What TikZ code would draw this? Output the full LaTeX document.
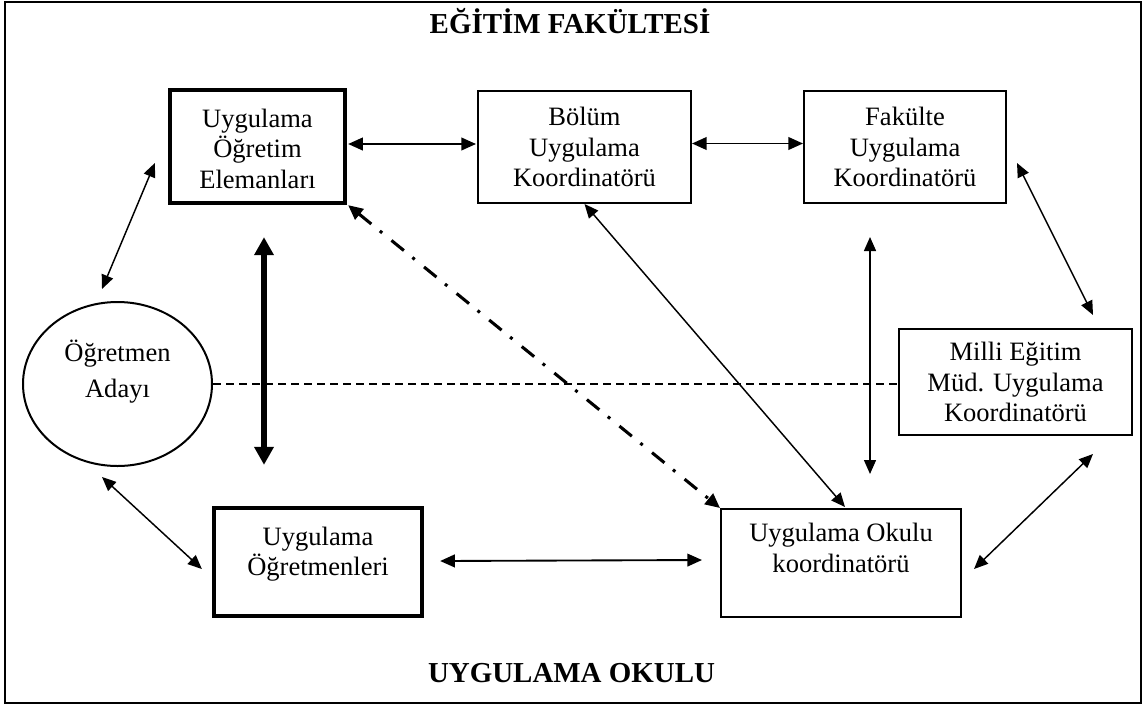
\documentclass[tikz,border=0pt]{standalone}
\usepackage{fontspec}
\setmainfont{Liberation Serif}
\usetikzlibrary{arrows.meta,calc,shapes.geometric}
\begin{document}
\begin{tikzpicture}[x=0.75pt,y=-0.75pt,
  every node/.style={font=\fontsize{19.9pt}{22.9pt}\selectfont, align=center, inner sep=0pt},
  box/.style={draw, line width=1.5pt, rectangle},
  thickbox/.style={draw, line width=3.2pt, rectangle},
  heading/.style={font=\fontsize{21.7pt}{25pt}\selectfont\bfseries, anchor=base},
  arr/.style={line width=1.1pt, {Triangle[length=10.5pt,width=9pt]}-{Triangle[length=10.5pt,width=9pt]}},
  arrmid/.style={line width=1.4pt, {Triangle[length=11pt,width=9.5pt]}-{Triangle[length=11pt,width=9.5pt]}},
  arrthick/.style={line width=4pt, {Triangle[length=13.5pt,width=14pt]}-{Triangle[length=13.5pt,width=14pt]}},
  dashdotline/.style={line width=2.3pt, dash pattern=on 12pt off 8.25pt on 2.25pt off 9pt,
     {Triangle[length=11pt,width=10pt]}-{Triangle[length=11pt,width=10pt]}},
  dashline/.style={line width=1pt, dash pattern=on 6pt off 3.75pt}
]
\useasboundingbox (0,0) rectangle (1144,707);
\draw[line width=1.5pt] (5,2) rectangle (1141,703);

\node[heading] (t1) at (570,33) {EĞİTİM FAKÜLTESİ};
\node[heading] (t2) at (571.5,682) {UYGULAMA OKULU};

\node[thickbox, minimum width=131.25pt, minimum height=84.75pt] (uoe) at (257.5,146.5) {};
\node (uoe-t) at ($(uoe)+(0,2)$) {Uygulama\\Öğretim\\Elemanları};
\node[box, minimum width=159.75pt, minimum height=84pt] (bol) at (584.5,147) {Bölüm\\Uygulama\\Koordinatörü};
\node[box, minimum width=151.5pt, minimum height=84pt] (fak) at (905,147) {Fakülte\\Uygulama\\Koordinatörü};
\node[box, minimum width=174.75pt, minimum height=79.5pt] (mil) at (1015.5,382) {Milli Eğitim\\Müd. Uygulama\\Koordinatörü};
\node[box, minimum width=180pt, minimum height=81pt] (oko) at (841,563) {};
\node (oko-t) at ($(oko)+(0,-15)$) {Uygulama Okulu\\koordinatörü};
\node[thickbox, minimum width=156pt, minimum height=81pt] (ogr) at (318,562) {};
\node (ogr-t) at ($(ogr)+(0,-8)$) {Uygulama\\Öğretmenleri};
\node[draw, ellipse, line width=1.5pt, minimum width=141.75pt, minimum height=123pt] (ell) at (117.5,384) {};
\node[font=\fontsize{19.9pt}{27pt}\selectfont] (ell-t) at ($(ell)+(0,-12)$) {Öğretmen\\Adayı};

\draw[arrmid] ($(uoe.east)+(1,-2.5)$) -- ($(bol.west)+(-1,-3)$);
\draw[arrmid] ($(bol.east)+(0,-3.5)$) -- ($(fak.west)+(0,-3.5)$);
\draw[arr] ($(ell.north)+(-15.5,-12)$) -- ($(uoe.west)+(-13,16.5)$);
\draw[arrthick] ($(uoe.south)+(6.5,32)$) -- ($(ogr.north)+(-54,-41)$);
\draw[dashdotline] ($(uoe.south east)+(1,0)$) -- (oko.north west);
\draw[arr] (bol.south) -- ($(oko.north)+(4,-1)$);
\draw[arr] ($(fak.south)+(-35,33)$) -- ($(oko.north)+(29,-34)$);
\draw[arr] ($(fak.east)+(10,16)$) -- ($(mil.north)+(77.5,-13)$);
\draw[arr] ($(mil.south)+(77.5,18)$) -- ($(oko.east)+(12,6)$);
\draw[arr] ($(ell.south)+(-15.5,10)$) -- ($(ogr.west)+(-10,7)$);
\draw[arrmid] ($(ogr.east)+(16,-1)$) -- ($(oko.west)+(-18,-3)$);
\draw[dashline] (ell.east) -- (ell.east -| mil.west);
\end{tikzpicture}
\end{document}
